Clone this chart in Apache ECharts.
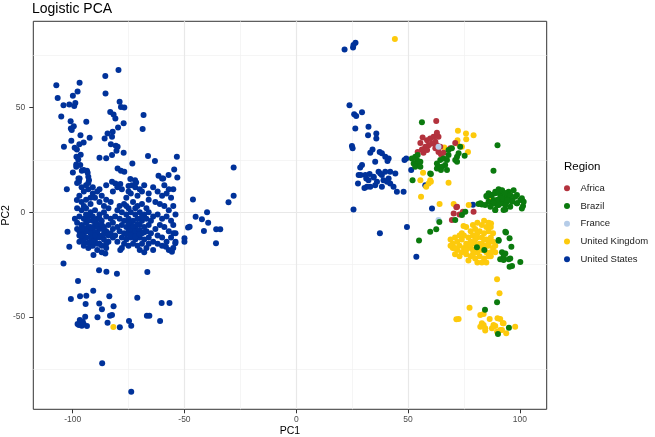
<!DOCTYPE html>
<html><head><meta charset="utf-8">
<script src="https://cdn.jsdelivr.net/npm/echarts@6/dist/echarts.min.js"></script>
<style>html,body{margin:0;padding:0;background:#fff}#c{width:655px;height:437px}</style>
</head><body><div id="c"></div>
<script>
// ---------- data ----------
const regions = ['Africa', 'Brazil', 'France', 'United Kingdom', 'United States'];
const xTicks = [-100, -50, 0, 50, 100];
const yTicks = [-50, 0, 50];

const africa = [[62.6,43.7],[56.5,35.8],[55.5,33.2],[58.5,34.5],[59.9,35.3],[61.4,36.1],[62.9,36.9],[63.6,36.1],[62.9,38],[62.2,33.7],[60.7,32.9],[59.2,32.1],[57.7,31.3],[56.2,30.1],[54.3,28.9],[56.9,28.5],[58.5,29.8],[62.2,30.6],[63.6,28.9],[64.7,27.8],[65.9,28.5],[64.4,31.3],[62.9,32.1],[68.9,30.6],[71.1,33.2],[71.9,2.7],[70.4,-0.5],[69.6,-3.7],[74.5,0.3],[79.3,0.3],[71.6,2.4],[73,-1]];

const france = [[63.6,31.3],[63.6,-3.7]];

const brazil = [[56.2,43.1],[51.7,25.8],[53.2,26.6],[54,25],[52.5,23.4],[54.7,23.4],[55.5,24.2],[53.2,21.8],[55.5,21.8],[54.3,27.4],[52,15.4],[59.9,18.6],[60.2,18.3],
[62.9,23.4],[64.4,25],[65.9,25.8],[63.6,21.8],[65.2,21.8],[66.6,22.6],[67.4,20.2],[64.7,20.2],[62.9,21],[67.4,25],[68.1,27.4],[68.1,29.8],[71.9,26.6],[71.1,25],[72.6,28.2],[73.3,31.3],[75.3,27],[71.9,24.2],[69.6,30.6],
[90,32.1],[88.2,19.9],
[85,7.8],[86,9.1],[87.5,8.3],[89,9.8],[90.5,11],[92,10.3],[93.5,9.1],[95,9.8],[97.2,10.6],[98.7,8.3],[100.9,6.7],[101.4,3],[98.7,4.3],[96.5,5.9],[94.2,5.1],[92,4.3],[89.8,3.5],[87.5,4],[86,5.1],[88.2,5.9],[90.5,6.2],[92.7,6.7],[95,7.5],[91.2,8.3],[89,1.1],[83,3.8],[81.5,4],[93.5,1.4],
[86.8,8.3],[89,9.1],[90.5,9.8],[92,10.6],[93.5,9.1],[95.7,8.3],[97.9,7.5],[100.2,5.9],[101.7,5.1],[98.7,4.3],[96.5,5.1],[94.2,5.9],[92,6.7],[89.8,5.9],[88.2,4.3],[86.8,2.7],[90.5,3.5],[93.5,3.5],[95.7,2.7],[92.7,1.1],[89,1.1],[100.9,1.9],[82.3,4.3],[84.5,3.5],[85.3,7.5],
[71.1,-3.7],[74.1,-1.3],[75.6,0.3],[64,-4.6],[62.6,-8.1],[59.9,-9.3],[54.9,-13.4],
[93.8,-9.6],[95.4,-12.4],[96.2,-16.4],[90.5,-13.6],[80.8,-16.7],[84.1,-18],[92,-19.1],[93.5,-19.6],[91.2,-22.4],[92.7,-22.8],[95,-22.4],[95.7,-22],[95.4,-26],[96.5,-25.6],[100.2,-23.7],[90.5,-13.2],[93.5,-9.3],[92.7,-21.2],
[89.8,-43],[84.4,-46.5],[95.1,-55.1],[90.2,-58.1]];

const unitedKingdom = [[44.1,82.9],[72.3,39],[75.9,37.7],[79.3,36.9],[72.1,34.5],[76,34.9],[71.9,32.9],[74.1,31.3],[76.8,28.9],[66.2,31],[56.7,18.9],[55.5,15.4],[59.9,15.4],[59.2,13.8],[58.1,12.2],[60.2,14.6],[68.1,14.1],[55.8,7.5],[64.1,4],[70.4,4],[77.1,3.5],[86.5,6.4],[74.8,-6.5],[87.1,-5.3],
[69,-13],[70,-15],[71,-12],[72,-14],[73,-16],[70,-17],[72,-18],[74,-19],[71,-20],[73,-21],[75,-17],[74,-13],[76,-15],[75,-11],[73,-11],[69,-16],[71,-17],[76,-20],[77,-12],[78,-9],[79,-6],[81,-5],[83,-6],[85,-7],[86,-9],[80,-8],[82,-9],[84,-10],[79,-11],[81,-12],[83,-12],[85,-13],[87,-12],[88,-14],[78,-14],[80,-15],[82,-15],[84,-16],[86,-16],[88,-17],[77,-17],[79,-18],[81,-19],[83,-18],[85,-19],[87,-19],[89,-16],[78,-21],[80,-22],[82,-21],[84,-22],[86,-21],[77,-23],[81,-24],[83,-24],[79,-20],[76,-18],[88,-10],[87,-7],[80,-13],[82,-17],[84,-13],[86,-14],[81,-10],[83,-15],[85,-16],[78,-16],[80,-11],[87,-21],[89,-19],[85,-24],[84,-4],[86,-5],[76,-7],[74,-10],
[89.8,-31.9],[90.9,-38.7],[77.5,-45.6],[71.6,-51.1],[72.6,-51],[82.3,-49],[83.8,-48.6],[83,-53],[83.8,-53.8],[86.5,-51],[87.5,-55.4],[89,-54.3],[90,-50.6],[91.2,-51],[92.4,-53],[93.9,-57.8],[97.9,-54.6],[89.8,-57],[91.2,-56.2],[84.5,-55.4],[82.3,-54.6],[84.5,-56.5],[88.2,-53.8],[92,-56.2],[92.7,-53],
[-81.8,-54.8]];

const unitedStates = [
[-107.3,60.8],[-106.7,54.7],[-96.9,61.9],[-85.4,65.2],[-79.5,68],[-85.3,56.8],[-97.8,57.8],[-99.9,55.7],[-104.1,51.2],[-101.5,51.6],[-99.3,50.8],[-98.8,52.3],[-105.1,45.8],[-100.9,43.6],[-93.9,43.3],[-100.8,40.1],[-99.5,41.2],[-100.4,39.3],[-103.9,31.3],[-100.6,34.2],[-96.5,36.8],[-95.1,33.4],[-97,32.6],[-99.1,30.9],[-98.1,30.1],[-92.4,35.6],[-98.3,26.6],[-96.4,27.5],[-97.5,25.3],[-98.4,22.9],[-96.6,22.6],[-99.9,19.1],[-95.9,19.9],[-93.6,19.9],[-93.3,18.9],[-97.4,16.2],[-97.2,14.6],[-93,17],[-92.7,15.4],[-102.6,11.1],[-88,26.1],[-85,25.9],[-82.4,27.4],[-85.7,35.3],[-84.4,37.7],[-82.4,36.1],[-82.1,38.5],[-82.9,32.5],[-80.7,31.8],[-79.9,31.3],[-80.4,29.4],[-83.2,48],[-81.7,46.8],[-80.9,44.9],[-79,52.8],[-78.4,50.4],[-76.9,50.1],[-79.7,40.6],[-77.2,42.6],[-79.9,21],[-78.4,19.9],[-76.9,19.4],[-68.3,46.5],[-68.7,39.8],[-66.3,26.9],[-63.2,24.6],[-73.3,23.4],[-53.4,26.6],[-54.6,20.5],[-53.2,16.7],[-61.6,17.5],[-59.5,16.2],[-74.2,15.9],[-72.1,15.4],[-71.6,14.3],[-28,21.5],[-28,7.9],[-30.3,4.8],[-46.2,6.2],[-45,-2.1],[-42.2,-3.3],[-39.9,0.1],
[-82.4,14.6],[-80.9,13.8],[-78.7,13.5],[-75,12.6],[-73.5,12.9],[-57.1,17.8],[-77.2,28.5],[-98.4,21.8],[-95.1,20.2],[-96.9,16.2],[-60,16.2],
// dense left lobe
[-97,8],[-95,10],[-93,11],[-91,9],[-96,5],[-94,6],[-92,4],[-90,7],[-88,5],[-86,3],[-98,2],[-96,1],[-94,2],[-92,0],[-90,1],[-88,-1],[-86,0],[-84,2],[-97,-2],[-95,-3],[-93,-2],[-91,-4],[-89,-3],[-87,-4],[-85,-2],[-83,-3],[-98,-5],[-96,-6],[-94,-5],[-92,-7],[-90,-6],[-88,-8],[-86,-7],[-84,-6],[-82,-5],[-97,-9],[-95,-10],[-93,-9],[-91,-11],[-89,-10],[-87,-11],[-85,-9],[-83,-10],[-96,-13],[-94,-12],[-92,-14],[-90,-13],[-88,-15],[-86,-13],[-84,-14],[-82,-12],[-95,-16],[-93,-17],[-91,-16],[-89,-18],[-87,-16],[-85,-17],[-93,-7],[-91,-8],[-89,-7],[-95,-7.5],[-92,-10],[-90,-9.5],[-94,-9],[-96,-11],[-88,-12],[-86,-10.5],[-93,-4],[-91,-2],[-89,-5.5],[-87,-6],[-90,-4],[-94,-1],[-92,-12],[-90,-11],[-97,-14],[-99,-3],[-98,-8],[-84,-11],[-82,-8],[-81,-2],[-80,1],[-83,5],[-85,6],[-87,8],[-89,10],[-94,13],[-92,7],[-95,3],[-97,-11],[-92,-16],[-87,-19],[-89,-15],[-85,-15],[-93,-14.5],[-91,-14],[-95,-14],[-86,-8.5],[-88,-3],[-96,-8],
// dense right lobe
[-79,3],[-77,4],[-75,2],[-73,5],[-71,3],[-69,4],[-67,2],[-78,0],[-76,-1],[-74,0],[-72,-1],[-70,0],[-68,-1],[-66,0],[-79,-3],[-77,-4],[-75,-3],[-73,-4],[-71,-3],[-69,-4],[-67,-3],[-65,-4],[-78,-6],[-76,-7],[-74,-6],[-72,-7],[-70,-6],[-68,-7],[-66,-6],[-79,-9],[-77,-10],[-75,-9],[-73,-10],[-71,-9],[-69,-10],[-67,-9],[-65,-10],[-78,-12],[-76,-13],[-74,-12],[-72,-13],[-70,-12],[-68,-13],[-66,-12],[-77,-15],[-75,-16],[-73,-15],[-71,-16],[-69,-15],[-67,-17],[-74,-8],[-72,-9],[-70,-8.5],[-73,-6.5],[-71,-5.5],[-75,-5],[-76,-10.5],[-74,-11],[-72,-11.5],[-70,-10.5],[-68,-9.5],[-69,-2],[-72,2],[-76,3],[-80,-7],[-81,-11],[-80,-14],[-78,-17],[-70,-18],[-68,-19],[-64,-14],[-66,-15],[-63,-8],[-64,-2],[-76,7],[-74,9],[-71,8],[-69,10],[-66,6],[-63,5],
// scattered right of dense area
[-62,10],[-60,8],[-58,9],[-56,7],[-55,11],[-61,4],[-59,3],[-57,1],[-55,3],[-62,-1],[-60,-3],[-58,-2],[-56,-4],[-54,-1],[-61,-6],[-59,-7],[-57,-9],[-55,-6],[-54,-10],[-62,-11],[-60,-12],[-58,-14],[-56,-12],[-54,-14],[-60,-16],[-57,-18],[-55,-17],[-62,-15],[-64,-18],
// band above dense area
[-98,14],[-96,12],[-93,14],[-91,12],[-88,11],[-85,13],[-82,10],[-80,12],[-78,11],[-75,10],[-72,12],[-70,11],[-68,13],[-66,9],[-64,12],[-59,13],[-57,11],
// lower left
[-102.3,-9.3],[-101.5,-16.4],[-104.1,-24.4],[-97.6,-32.8],[-88.2,-27.7],[-84.9,-28.4],[-80.2,-29.3],[-66.6,-28.5],[-90.7,-20.4],[-85.4,-19.6],[-78.7,-18],[-90.8,-37.4],[-100.8,-41.4],[-96.7,-40.1],[-93.9,-39.8],[-88.1,-43.5],[-86.9,-46.3],[-83.6,-40.1],[-81.7,-44.9],[-71.1,-40.8],[-60.2,-43.3],[-56.7,-43.3],[-94.2,-43.8],[-88.9,-50.1],[-83.3,-49.4],[-82.4,-49],[-84.4,-52.7],[-66.8,-49.4],[-65.7,-49.4],[-60.9,-51.9],[-74.8,-51.9],[-73.8,-54.2],[-78.9,-54.9],[-97.8,-53.3],[-96.8,-51.4],[-95.5,-52.2],[-94.4,-49.9],[-95.9,-54.2],[-93.6,-54.3],[-97.2,-53.8],[-95.1,-53.3],[-86.8,-72.1],[-73.8,-85.7],[-98.1,5.9],
[-50,-12.4],[-50,-14],[-48.4,-7.2],[-47.7,-6.9],[-41.3,-8.9],[-39.4,-5],[-35.8,-8.1],[-34,-8.1],[-35.9,-14.8],[-54.9,-10],[-54.1,-14.8],[-55.6,-18.8],[-58.3,-16.4],
// right group
[21.6,77.8],[25.4,78.8],[26.5,81],[25.6,80],[23.8,51.2],[25.9,46.9],[26.8,46.1],[29.4,47.8],[26.4,40.1],[32.3,40.9],[32.1,36.9],[35.8,37.7],[35.8,35.3],[24.9,31.7],[25.2,30.6],[34.1,30.1],[33.1,28.5],[37.3,28.9],[38.3,28.2],[39.8,26.6],[40.8,24.6],[41.3,25.8],[35.3,24.2],[29.4,22.6],[28.6,21.5],[27.9,17.8],[30.9,17.8],[31.3,16.2],[32.3,15.4],[33.1,12.2],[34.6,16.7],[36.8,19.4],[38.3,17.8],[39.8,19.4],[39,15.4],[41.3,16.2],[42,13.8],[43.5,12.2],[45,9.8],[48,9.8],[44.3,18.6],[42,19.4],[36.1,14.6],[31.6,12.2],[30.5,11.7],[27.6,13.8],[32.8,18.3],[35.3,13],[38.3,12.2],[40.6,14.6],[34.6,17],[37.6,18.6],[28.8,17.8],[48.4,25],[49.2,25.8],[51.4,20.2],[57.7,13],[25.6,1.4],[60.7,1.9],[79,3.6],[37.4,-10],[49.5,-7],[53.7,-21.2]];

// ---------- chart ----------
const FONT = "'Liberation Sans', Arial, Helvetica, sans-serif";
const seriesData = {
  'Africa': africa, 'Brazil': brazil, 'France': france,
  'United Kingdom': unitedKingdom, 'United States': unitedStates
};
const colors = {
  'Africa': '#B3323D', 'Brazil': '#0B7A0E', 'France': '#B5CCE8',
  'United Kingdom': '#FDCA0C', 'United States': '#00329A'
};
const drawOrder = ['United States', 'United Kingdom', 'Africa', 'France', 'Brazil'];

const chart = echarts.init(document.getElementById('c'), null, { renderer: 'canvas' });
chart.setOption({
  animation: false,
  backgroundColor: '#ffffff',
  title: [
    { text: 'Logistic PCA', left: 32, top: 2, padding: 0,
      textStyle: { fontSize: 14, fontWeight: 'normal', color: '#000', fontFamily: FONT } },
    { text: 'Region', left: 564, top: 161, padding: 0,
      textStyle: { fontSize: 11.5, fontWeight: 'normal', color: '#000', fontFamily: FONT } }
  ],
  legend: {
    orient: 'vertical', left: 564, top: 179.5, padding: 0, itemGap: 0,
    itemWidth: 17, itemHeight: 6, icon: 'circle', selectedMode: false,
    data: regions,
    textStyle: { fontSize: 9.5, color: '#1a1a1a', fontFamily: FONT, lineHeight: 17.7 }
  },
  grid: {
    left: 33.3, top: 21.3, width: 513.4, height: 388,
    containLabel: false, outerBoundsMode: 'none',
    show: true, borderColor: '#333333', borderWidth: 1, backgroundColor: '#fff'
  },
  xAxis: {
    type: 'value', min: -117.6, max: 112, splitNumber: 4,
    name: 'PC1', nameLocation: 'middle', nameGap: 16, nameMoveOverlap: false,
    nameTextStyle: { fontSize: 10.5, color: '#000', fontFamily: FONT, verticalAlign: 'top' },
    axisLine: { show: false, onZero: false },
    axisTick: { show: true, length: 4, lineStyle: { color: '#333', width: 1 }, customValues: xTicks },
    axisLabel: { customValues: xTicks, fontSize: 8.5, color: '#4d4d4d', margin: 6, fontFamily: FONT },
    splitLine: { show: true, showMinLine: false, showMaxLine: false, lineStyle: { color: '#e8e8e8', width: 1.2 } },
    minorTick: { show: false, splitNumber: 2 },
    minorSplitLine: { show: true, lineStyle: { color: '#f0f0f0', width: 0.7 } }
  },
  yAxis: {
    type: 'value', min: -94.1, max: 91.3, splitNumber: 4,
    name: 'PC2', nameLocation: 'middle', nameGap: 22, nameMoveOverlap: false,
    nameTextStyle: { fontSize: 10.5, color: '#000', fontFamily: FONT },
    axisLine: { show: false, onZero: false },
    axisTick: { show: true, length: 4, lineStyle: { color: '#333', width: 1 }, customValues: yTicks },
    axisLabel: { customValues: yTicks, fontSize: 8.5, color: '#4d4d4d', margin: 8, fontFamily: FONT },
    splitLine: { show: true, showMinLine: false, showMaxLine: false, lineStyle: { color: '#e8e8e8', width: 1.2 } },
    minorTick: { show: false, splitNumber: 2 },
    minorSplitLine: { show: true, lineStyle: { color: '#f0f0f0', width: 0.7 } }
  },
  series: drawOrder.map(name => ({
    name: name, type: 'scatter', data: seriesData[name],
    symbol: 'circle', symbolSize: 6, silent: true,
    itemStyle: { color: colors[name], opacity: 1 },
    emphasis: { disabled: true }
  }))
});
</script></body></html>
